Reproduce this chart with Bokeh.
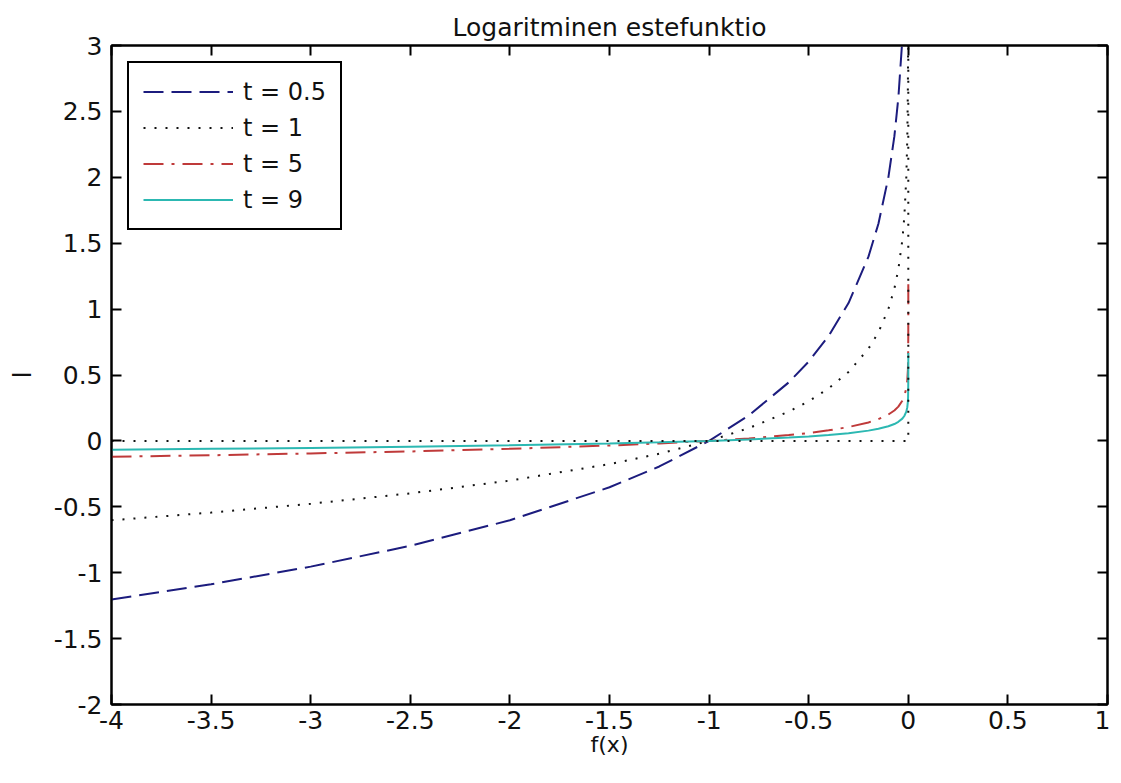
from bokeh.plotting import figure
from bokeh.models import Range1d, FixedTicker, LinearAxis
from bokeh.embed import file_html
from bokeh.resources import INLINE

# ---- data ----
x_vals = [-4, -3.5, -3, -2.5, -2, -1.5, -1.25, -1, -0.8, -0.6, -0.5, -0.4, -0.3,
          -0.2, -0.15, -0.1, -0.07, -0.05, -0.03, -0.02, -0.01, -0.005, -0.002,
          -0.001, -0.0001, -0.00001, -0.000001]
y_t05 = [-1.204, -1.088, -0.954, -0.796, -0.602, -0.352, -0.194, 0.0, 0.194, 0.444,
         0.602, 0.796, 1.046, 1.398, 1.648, 2.0, 2.310, 2.602, 3.046, 3.398, 4.0,
         4.602, 5.398, 6.0, 8.0, 10.0, 12.0]
y_t1 = [-0.602, -0.544, -0.477, -0.398, -0.301, -0.176, -0.097, 0.0, 0.097, 0.222,
        0.301, 0.398, 0.523, 0.699, 0.824, 1.0, 1.155, 1.301, 1.523, 1.699, 2.0,
        2.301, 2.699, 3.0, 4.0, 5.0, 6.0]
y_t5 = [-0.120, -0.109, -0.095, -0.080, -0.060, -0.035, -0.019, 0.0, 0.019, 0.044,
        0.060, 0.080, 0.105, 0.140, 0.165, 0.200, 0.231, 0.260, 0.305, 0.340, 0.400,
        0.460, 0.540, 0.600, 0.800, 1.000, 1.200]
y_t9 = [-0.067, -0.060, -0.053, -0.044, -0.033, -0.020, -0.011, 0.0, 0.011, 0.025,
        0.033, 0.044, 0.058, 0.078, 0.092, 0.111, 0.128, 0.145, 0.169, 0.189, 0.222,
        0.256, 0.300, 0.333, 0.444, 0.556, 0.667]
barrier_x = [-4, 0, 0]
barrier_y = [0, 0, 3]

series_labels = ["t = 0.5", "t = 1", "t = 5", "t = 9"]
x_ticks = [-4, -3.5, -3, -2.5, -2, -1.5, -1, -0.5, 0, 0.5, 1]
x_tick_labels = ["-4", "-3.5", "-3", "-2.5", "-2", "-1.5", "-1", "-0.5", "0", "0.5", "1"]
y_ticks = [-2, -1.5, -1, -0.5, 0, 0.5, 1, 1.5, 2, 2.5, 3]
y_tick_labels = ["-2", "-1.5", "-1", "-0.5", "0", "0.5", "1", "1.5", "2", "2.5", "3"]

FONT = "DejaVu Sans"
INK = "#111111"

p = figure(width=1110, height=767, output_backend="svg", toolbar_location=None,
           x_range=Range1d(-4, 1), y_range=Range1d(-2, 3),
           min_border_left=111, min_border_right=3, min_border_top=45,
           min_border_bottom=63, title="Logaritminen estefunktio")
p.background_fill_color = "white"
p.border_fill_color = "white"
p.outline_line_color = "black"
p.outline_line_width = 2
p.outline_line_alpha = 1.0
p.xgrid.visible = False
p.ygrid.visible = False

p.title.text_font = FONT
p.title.text_font_size = "25px"
p.title.text_font_style = "normal"
p.title.text_color = INK
p.title.align = "center"
p.title.standoff = 8


def style_axis(ax, ticks, labels, show_labels=True):
    ax.ticker = FixedTicker(ticks=ticks)
    ax.major_tick_in = 10
    ax.major_tick_out = 0
    ax.minor_tick_line_color = None
    ax.axis_line_width = 2
    ax.axis_line_color = "black"
    ax.major_tick_line_width = 2
    ax.major_tick_line_color = "black"
    if show_labels:
        ax.major_label_overrides = {t: l for t, l in zip(ticks, labels)}
        ax.major_label_text_font = FONT
        ax.major_label_text_font_size = "25px"
        ax.major_label_text_color = INK
    else:
        ax.major_label_overrides = {t: "" for t in ticks}
        ax.major_label_text_font_size = "0px"
        ax.major_label_standoff = 0


xa = p.xaxis[0]
style_axis(xa, x_ticks, x_tick_labels)
xa.major_label_standoff = 6
xa.axis_label = "f(x)"
xa.axis_label_text_font = FONT
xa.axis_label_text_font_size = "22px"
xa.axis_label_text_font_style = "normal"
xa.axis_label_text_color = INK
xa.axis_label_standoff = 0

ya = p.yaxis[0]
style_axis(ya, y_ticks, y_tick_labels)
ya.major_label_standoff = 9
ya.axis_label = "l"
ya.axis_label_text_font = FONT
ya.axis_label_text_font_size = "24px"
ya.axis_label_text_font_style = "normal"
ya.axis_label_text_color = INK
ya.axis_label_standoff = 14

top_ax = LinearAxis()
style_axis(top_ax, x_ticks, x_tick_labels, show_labels=False)
p.add_layout(top_ax, "above")
right_ax = LinearAxis()
style_axis(right_ax, y_ticks, y_tick_labels, show_labels=False)
p.add_layout(right_ax, "right")

colors = ["#1c1c7e", "#111111", "#bf3a3a", "#2cb8b2"]
dashes = ["20 8", "2 9", "20 8 3 8", "solid"]
ys = [y_t05, y_t1, y_t5, y_t9]

for yv, c, d, lab in zip(ys, colors, dashes, series_labels):
    p.line(x_vals, yv, line_color=c, line_width=2, line_dash=d, legend_label=lab)

p.line(barrier_x, barrier_y, line_color="#111111", line_width=2, line_dash="2 9")

lg = p.legend[0]
lg.location = "top_left"
lg.margin = 16
lg.padding = 14
lg.spacing = 7
lg.glyph_width = 90
lg.glyph_height = 29
lg.label_height = 29
lg.label_standoff = 10
lg.label_text_font = FONT
lg.label_text_font_size = "24px"
lg.label_text_color = INK
lg.border_line_color = "black"
lg.border_line_width = 2
lg.border_line_alpha = 1.0
lg.background_fill_color = "white"
lg.background_fill_alpha = 1.0

open("out.html", "w").write(file_html(p, INLINE))
